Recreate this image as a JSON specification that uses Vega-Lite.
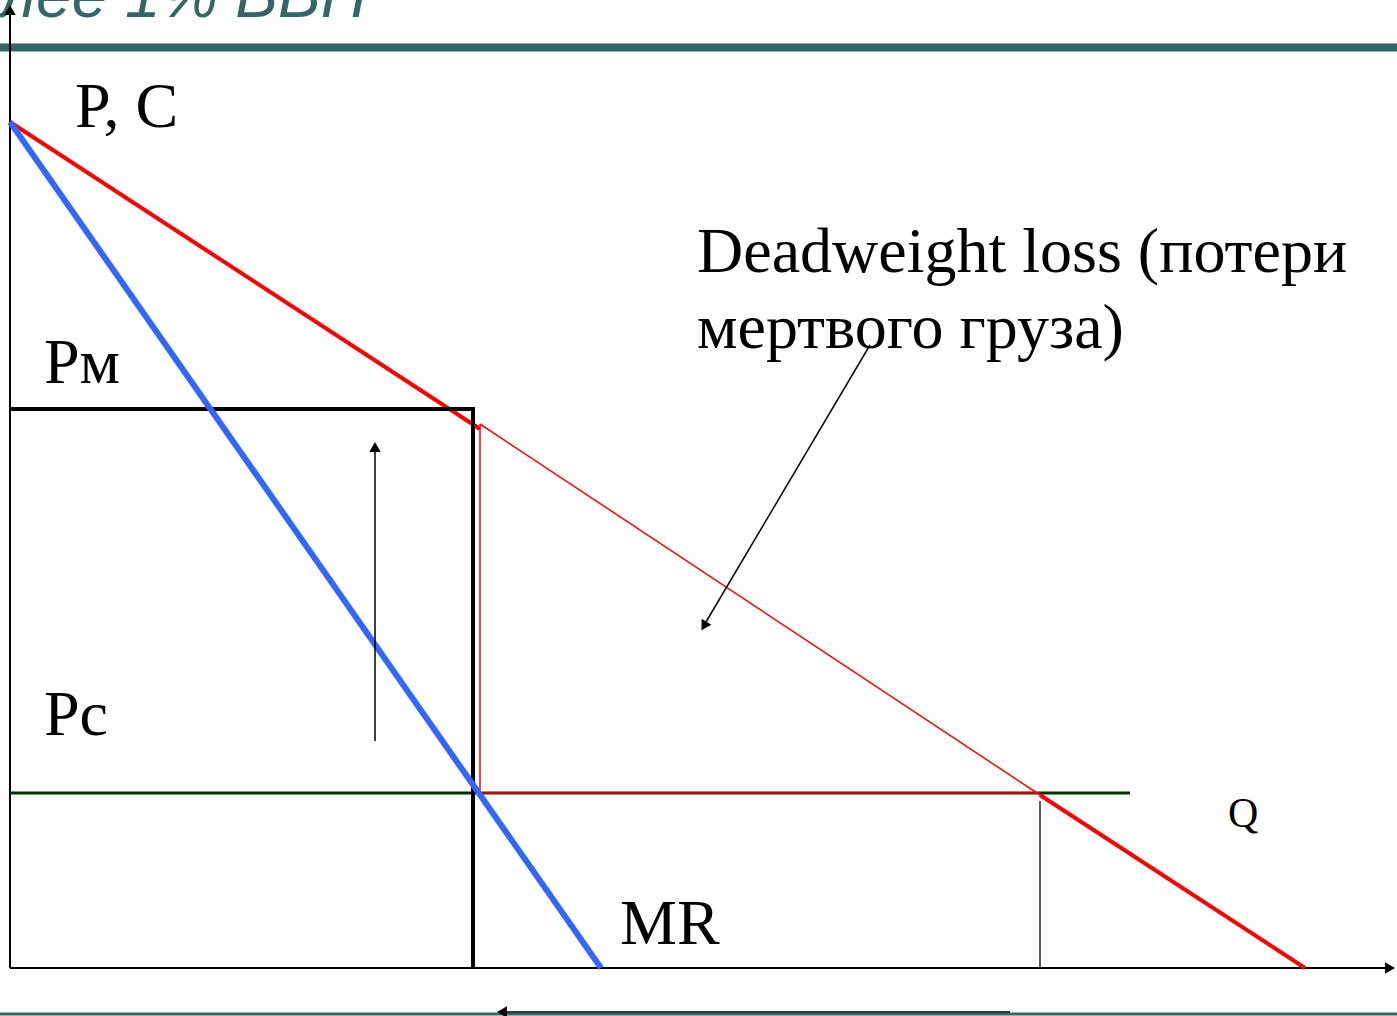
{
  "$schema": "https://vega.github.io/schema/vega-lite/v6.json",
  "width": 1397,
  "height": 1016,
  "autosize": {"type": "none"},
  "padding": 0,
  "background": "white",
  "config": {"view": {"stroke": null}},
  "datasets": {
    "segs": [
      {"g": "band", "x": 0, "y": 47.5, "x2": 1397, "y2": 47.5},
      {"g": "band2", "x": 0, "y": 1014, "x2": 1397, "y2": 1014},
      {"g": "axis", "x": 10, "y": 8, "x2": 10, "y2": 968},
      {"g": "axis", "x": 10, "y": 968, "x2": 1390, "y2": 968},
      {"g": "demand", "x": 10, "y": 122, "x2": 480, "y2": 429},
      {"g": "demand", "x": 1040, "y": 795, "x2": 1305, "y2": 968},
      {"g": "thinred", "x": 480, "y": 424, "x2": 1040, "y2": 795},
      {"g": "thinred", "x": 480, "y": 424, "x2": 480, "y2": 793},
      {"g": "thinred", "x": 480, "y": 793, "x2": 1040, "y2": 793},
      {"g": "pc", "x": 10, "y": 793, "x2": 1130, "y2": 793},
      {"g": "pm", "x": 10, "y": 409, "x2": 475, "y2": 409},
      {"g": "pm", "x": 473, "y": 409, "x2": 473, "y2": 968},
      {"g": "mr", "x": 10, "y": 122, "x2": 601, "y2": 968},
      {"g": "thin", "x": 1040, "y": 801, "x2": 1040, "y2": 968},
      {"g": "arrow", "x": 375, "y": 741, "x2": 375, "y2": 446},
      {"g": "arrow", "x": 870, "y": 345, "x2": 703, "y2": 627},
      {"g": "arrow", "x": 1010, "y": 1012, "x2": 503, "y2": 1012}
    ],
    "heads": [
      {"x": 10, "y": 10, "a": 0},
      {"x": 1390, "y": 968, "a": 90},
      {"x": 375, "y": 447, "a": 0},
      {"x": 704, "y": 626, "a": 210.6},
      {"x": 502, "y": 1012, "a": 270}
    ],
    "labels": [
      {"t": "P, C", "x": 75, "y": 127, "s": "big"},
      {"t": "Pм", "x": 44, "y": 383, "s": "big"},
      {"t": "Pc", "x": 44, "y": 735, "s": "big"},
      {"t": "MR", "x": 620, "y": 944, "s": "big"},
      {"t": "Q", "x": 1228, "y": 827, "s": "small"},
      {"t": "Deadweight loss (потери", "x": 697, "y": 272, "s": "big"},
      {"t": "мертвого груза)", "x": 697, "y": 348, "s": "big"}
    ],
    "title": [{"t": "лее 1% ВВП", "x": 0, "y": 17}]
  },
  "encoding": {
    "x": {"field": "x", "type": "quantitative", "scale": {"domain": [0, 1397], "nice": false, "zero": false}, "axis": null},
    "y": {"field": "y", "type": "quantitative", "scale": {"domain": [0, 1016], "nice": false, "zero": false, "reverse": true}, "axis": null}
  },
  "layer": [
    {"data": {"name": "title"}, "mark": {"type": "text", "align": "left", "baseline": "alphabetic", "font": "Liberation Sans", "fontStyle": "italic", "fontSize": 64, "color": "#336666"}, "encoding": {"text": {"field": "t"}}},
    {"data": {"name": "segs"}, "transform": [{"filter": "datum.g === 'band'"}], "mark": {"type": "rule", "color": "#336666", "strokeWidth": 8}, "encoding": {"x2": {"field": "x2"}, "y2": {"field": "y2"}}},
    {"data": {"name": "segs"}, "transform": [{"filter": "datum.g === 'band2'"}], "mark": {"type": "rule", "color": "#336666", "strokeWidth": 3}, "encoding": {"x2": {"field": "x2"}, "y2": {"field": "y2"}}},
    {"data": {"name": "segs"}, "transform": [{"filter": "datum.g === 'axis'"}], "mark": {"type": "rule", "color": "#000000", "strokeWidth": 2}, "encoding": {"x2": {"field": "x2"}, "y2": {"field": "y2"}}},
    {"data": {"name": "segs"}, "transform": [{"filter": "datum.g === 'thin'"}], "mark": {"type": "rule", "color": "#222222", "strokeWidth": 1.5}, "encoding": {"x2": {"field": "x2"}, "y2": {"field": "y2"}}},
    {"data": {"name": "segs"}, "transform": [{"filter": "datum.g === 'pc'"}], "mark": {"type": "rule", "color": "#003300", "strokeWidth": 3}, "encoding": {"x2": {"field": "x2"}, "y2": {"field": "y2"}}},
    {"data": {"name": "segs"}, "transform": [{"filter": "datum.g === 'thinred'"}], "mark": {"type": "rule", "color": "#FF0000", "strokeWidth": 1.5}, "encoding": {"x2": {"field": "x2"}, "y2": {"field": "y2"}}},
    {"data": {"name": "segs"}, "transform": [{"filter": "datum.g === 'demand'"}], "mark": {"type": "rule", "color": "#FF0000", "strokeWidth": 4}, "encoding": {"x2": {"field": "x2"}, "y2": {"field": "y2"}}},
    {"data": {"name": "segs"}, "transform": [{"filter": "datum.g === 'pm'"}], "mark": {"type": "rule", "color": "#000000", "strokeWidth": 4}, "encoding": {"x2": {"field": "x2"}, "y2": {"field": "y2"}}},
    {"data": {"name": "segs"}, "transform": [{"filter": "datum.g === 'mr'"}], "mark": {"type": "rule", "color": "#3366FF", "strokeWidth": 6}, "encoding": {"x2": {"field": "x2"}, "y2": {"field": "y2"}}},
    {"data": {"name": "segs"}, "transform": [{"filter": "datum.g === 'arrow'"}], "mark": {"type": "rule", "color": "#000000", "strokeWidth": 1.5}, "encoding": {"x2": {"field": "x2"}, "y2": {"field": "y2"}}},
    {"data": {"name": "heads"}, "mark": {"type": "point", "shape": "triangle-up", "filled": true, "color": "#000000", "size": 130, "opacity": 1}, "encoding": {"angle": {"field": "a", "type": "quantitative", "scale": null}}},
    {"data": {"name": "labels"}, "transform": [{"filter": "datum.s === 'big'"}], "mark": {"type": "text", "align": "left", "baseline": "alphabetic", "font": "Liberation Serif", "fontSize": 64, "color": "#000000"}, "encoding": {"text": {"field": "t"}}},
    {"data": {"name": "labels"}, "transform": [{"filter": "datum.s === 'small'"}], "mark": {"type": "text", "align": "left", "baseline": "alphabetic", "font": "Liberation Serif", "fontSize": 42, "color": "#000000"}, "encoding": {"text": {"field": "t"}}}
  ]
}
